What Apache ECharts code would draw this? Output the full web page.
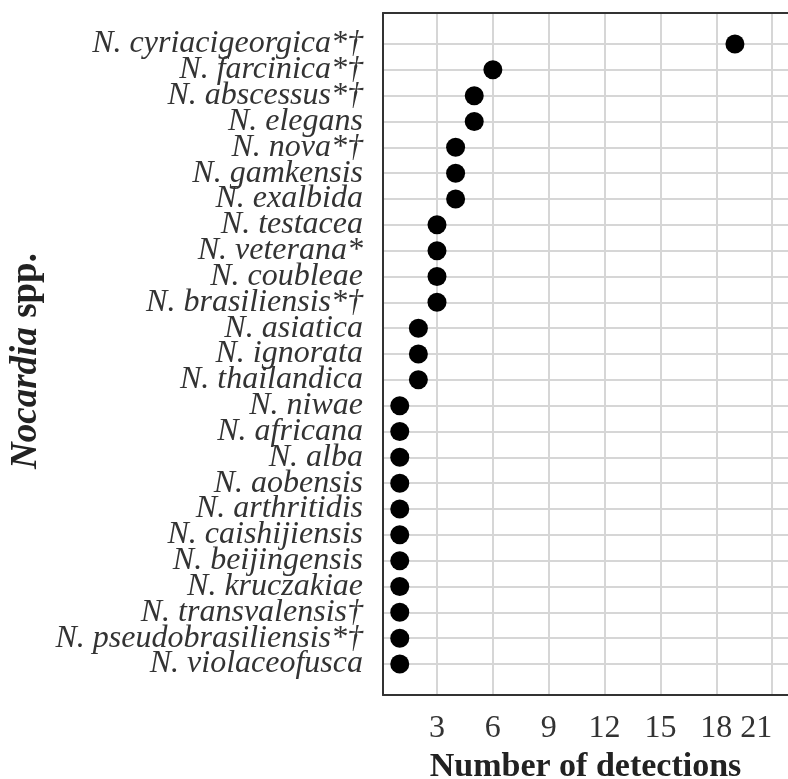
<!DOCTYPE html>
<html>
<head>
<meta charset="utf-8">
<script src="https://cdn.jsdelivr.net/npm/echarts@6/dist/echarts.min.js"></script>
<style>html,body{margin:0;padding:0;background:#fff;}#c{width:788px;height:779px;}</style>
</head>
<body>
<div id="c"></div>
<script>
var species = [
  'N. cyriacigeorgica*\u2020', 'N. farcinica*\u2020', 'N. abscessus*\u2020', 'N. elegans',
  'N. nova*\u2020', 'N. gamkensis', 'N. exalbida', 'N. testacea', 'N. veterana*',
  'N. coubleae', 'N. brasiliensis*\u2020', 'N. asiatica', 'N. ignorata', 'N. thailandica',
  'N. niwae', 'N. africana', 'N. alba', 'N. aobensis', 'N. arthritidis', 'N. caishijiensis',
  'N. beijingensis', 'N. kruczakiae', 'N. transvalensis\u2020', 'N. pseudobrasiliensis*\u2020',
  'N. violaceofusca'
];
var detections = [19, 6, 5, 5, 4, 4, 4, 3, 3, 3, 3, 2, 2, 2, 1, 1, 1, 1, 1, 1, 1, 1, 1, 1, 1];
var xTicks = [3, 6, 9, 12, 15, 18, 21];

var rowIdx = species.map(function (s, i) { return i; });
var labelIdx = [-1].concat(rowIdx).concat([species.length]);
var points = detections.map(function (v, i) { return [v, i]; });

var chart = echarts.init(document.getElementById('c'));
var serif = '"Liberation Serif", "DejaVu Serif", serif';
var border = { show: true, onZero: false, lineStyle: { color: '#333', width: 2 } };
var XMIN = 0.1, XMAX = 21.85;
chart.setOption({
  animation: false,
  grid: { left: 383, top: 13, bottom: 84, right: 0, outerBoundsMode: 'none', containLabel: false },
  xAxis: [{
    type: 'value', min: XMIN, max: XMAX,
    name: 'Number of detections', nameLocation: 'middle', nameGap: 49,
    nameTextStyle: { fontFamily: serif, fontWeight: 'bold', fontSize: 34, color: '#222' },
    axisLine: border, axisTick: { show: false, customValues: xTicks },
    axisLabel: { customValues: xTicks, fontFamily: serif, fontSize: 32, color: '#333', margin: 18,
      showMinLabel: true, showMaxLabel: true, hideOverlap: false, alignMaxLabel: 'right' },
    splitLine: { show: true, lineStyle: { color: '#d6d6d6', width: 2 } }
  }, {
    type: 'value', position: 'top', min: XMIN, max: XMAX,
    axisLine: border, axisTick: { show: false }, axisLabel: { show: false }, splitLine: { show: false }
  }],
  yAxis: {
    type: 'value', inverse: true, min: -1.2, max: 25.2,
    name: '{i|Nocardia}{b| spp.}', nameLocation: 'middle', nameGap: 336, nameRotate: 90,
    nameTextStyle: { padding: [0, 14, 0, 0], rich: {
      i: { fontFamily: serif, fontWeight: 'bold', fontStyle: 'italic', fontSize: 37, color: '#222' },
      b: { fontFamily: serif, fontWeight: 'bold', fontSize: 37, color: '#222' }
    } },
    axisLine: border, axisTick: { show: false, customValues: rowIdx },
    axisLabel: {
      customValues: labelIdx, margin: 20, showMinLabel: false, showMaxLabel: false, hideOverlap: false,
      fontFamily: serif, fontStyle: 'italic', fontSize: 32, color: '#333', padding: [5, 0, 0, 0],
      formatter: function (v) { var s = species[Math.round(v)]; return s === undefined ? '' : s; }
    },
    splitLine: { show: true, lineStyle: { color: '#d6d6d6', width: 2 } }
  },
  series: [{
    type: 'scatter', data: points, symbol: 'circle', symbolSize: 19,
    itemStyle: { color: '#000', opacity: 1 }
  }]
});
</script>
</body>
</html>
